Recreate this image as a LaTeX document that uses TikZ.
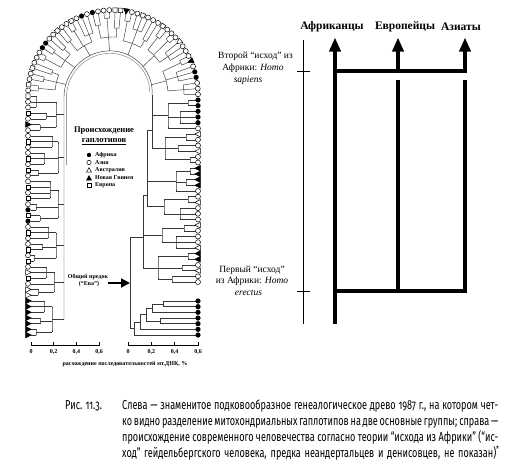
\documentclass[tikz,border=0pt]{standalone}
\usepackage{fontspec}
\setmainfont{Liberation Serif}
\newfontfamily\capfont[FakeStretch=0.70,Numbers=OldStyle]{Fira Sans}
\usetikzlibrary{arrows.meta}
\newcommand\leafsym[2]{%
  \ifcase#1\relax
    \draw[leafline,fill=white] ({hx(#2,0)},{hy(#2,0)}) circle[radius=2.5pt];%
  \or
    \fill[black] ({hx(#2,0)},{hy(#2,0)}) circle[radius=2.6pt];%
  \or
    \draw[leafline,fill=white] ({hx(#2-2.8,-2.3)},{hy(#2-2.8,-2.3)}) -- ({hx(#2,3.2)},{hy(#2,3.2)}) -- ({hx(#2+2.8,-2.3)},{hy(#2+2.8,-2.3)}) -- cycle;%
  \or
    \draw[leafline,fill=black] ({hx(#2-2.8,-2.3)},{hy(#2-2.8,-2.3)}) -- ({hx(#2,3.2)},{hy(#2,3.2)}) -- ({hx(#2+2.8,-2.3)},{hy(#2+2.8,-2.3)}) -- cycle;%
  \or
    \draw[leafline,fill=white] ({hx(#2-2.2,-2.2)},{hy(#2-2.2,-2.2)}) -- ({hx(#2-2.2,2.2)},{hy(#2-2.2,2.2)}) -- ({hx(#2+2.2,2.2)},{hy(#2+2.2,2.2)}) -- ({hx(#2+2.2,-2.2)},{hy(#2+2.2,-2.2)}) -- cycle;%
  \fi}
\begin{document}
\begin{tikzpicture}[x=1pt,y=-1pt,
  declare function={
    phia(\sv)=(\sv-240)*0.674069;
    hx(\sv,\dv)=ifthenelse(\sv<240,28+\dv,ifthenelse(\sv>507.04,198-\dv,113-(85-\dv)*cos(phia(\sv))));
    hy(\sv,\dv)=ifthenelse(\sv<240,335-\sv,ifthenelse(\sv>507.04,\sv-412.04,95-(85-\dv)*sin(phia(\sv))));
    tdep(\sv)=ifthenelse(\sv<240,36,ifthenelse(\sv>507.04,46,36+(\sv-240)*0.037448));
  },
  treeline/.style={draw=black!78,line width=0.45pt},
  leafline/.style={draw=black,line width=0.5pt},
  bigline/.style={draw=black,line width=3.6pt},
  bigarrow/.style={bigline,-{Triangle[length=14pt,width=11pt]}},
  labtext/.style={inner sep=0pt,font=\fontsize{9.5}{11}\selectfont},
  headtext/.style={inner sep=0pt,font=\fontsize{11.5}{13}\selectfont\bfseries},
  smalltext/.style={inner sep=0pt,font=\fontsize{6}{7}\selectfont\bfseries},
  legtext/.style={inner sep=0pt,anchor=west,font=\fontsize{6}{7}\selectfont\bfseries},
  captext/.style={inner sep=0pt,anchor=base west,font=\capfont\fontsize{13}{16}\selectfont},
]
\useasboundingbox (0,0) rectangle (508,466);
\fill[white] (0,0) rectangle (508,466);

% ---------------- horseshoe tree ----------------
\foreach \lo/\hi/\dd/\df/\subs in {%
  0.5/5/24/-1/{0/1/8,2/3/12,4/6/16},%
  7.5/11/26/-1/{7/8/10,9/9/4,10/12/18},%
  13.5/18/28/-1/{13/14/6,15/16/14,17/19/20},%
  20.5/25.5/30/-1/{20/21/12,22/23/8,24/27/22},%
  28.5/34/30/-1/{28/29/10,30/32/16,33/35/24},%
  36.5/41/28/-1/{36/37/12,38/39/18,40/42/8},%
  43.5/47.5/27/-1/{43/44/10,45/46/14,47/48/20},%
  49.5/53.5/26/-1/{49/50/8,51/52/12,53/54/18},%
  55.5/60/28/-1/{55/56/16,57/58/10,59/61/20},%
  62.5/66.5/27/-1/{62/63/14,64/65/8,66/67/18},%
  68.5/73.5/30/-1/{68/69/10,70/72/16,73/74/22},%
  75.5/80/28/-1/{75/76/12,77/78/8,79/81/18},%
  82.5/88/30/-1/{82/83/10,84/86/18,87/89/14},%
  90.5/95/30/46/{90/91/10,92/94/18,95/95/4},%
  96.5/100.5/33/46/{96/97/12,98/99/20,100/101/8},%
  102.5/106/22/51/{102/103/8,104/105/12,106/106/4},%
  107.5/110/34/51/{107/108/10,109/111/18},%
  112.5/115/36/55/{112/113/14,114/116/22},%
  117.5/121.5/40/55/{117/118/10,119/120/16,121/122/26}%
}{%
  \foreach \fa/\fb/\fd in \subs {%
    \foreach \ii in {\fa,...,\fb} {%
      \pgfmathsetmacro\sL{\ii*5.689}%
      \draw[treeline] ({hx(\sL,2.5)},{hy(\sL,2.5)}) -- ({hx(\sL,\fd)},{hy(\sL,\fd)});%
    }%
    \ifnum\fa<\fb\relax
      \pgfmathsetmacro\sA{\fa*5.689}%
      \pgfmathsetmacro\sB{\fb*5.689}%
      \draw[treeline] plot[domain=\sA:\sB,samples=6] ({hx(\x,\fd)},{hy(\x,\fd)});%
    \fi
    \pgfmathsetmacro\sM{(\fa+\fb)/2*5.689}%
    \draw[treeline] ({hx(\sM,\fd)},{hy(\sM,\fd)}) -- ({hx(\sM,\dd)},{hy(\sM,\dd)});%
  }%
  \pgfmathsetmacro\sA{\lo*5.689}%
  \pgfmathsetmacro\sB{\hi*5.689}%
  \draw[treeline] plot[domain=\sA:\sB,samples=10] ({hx(\x,\dd)},{hy(\x,\dd)});%
  \pgfmathsetmacro\sM{(\lo+\hi)/2*5.689}%
  \pgfmathsetmacro\dF{\df<0 ? tdep(\sM) : \df}%
  \draw[treeline] ({hx(\sM,\dd)},{hy(\sM,\dd)}) -- ({hx(\sM,\dF)},{hy(\sM,\dF)});%
}
% trunk along the horseshoe
\draw[treeline] plot[domain=15.6:507.04,samples=120] ({hx(\x,tdep(\x))},{hy(\x,tdep(\x))});
\draw[draw=black!40,line width=0.6pt] plot[domain=170:500,samples=90] ({hx(\x,tdep(\x)+2.5)},{hy(\x,tdep(\x)+2.5)});
% right side joints and root
\coordinate (r1a) at (152,95);  \coordinate (r1b) at (152,148.3);
\coordinate (r2a) at (147,130); \coordinate (r2b) at (147,206.7);
\coordinate (r3a) at (143,195); \coordinate (r3b) at (143,267.8);
\coordinate (rootT) at (130,237); \coordinate (rootB) at (130,328.45);
\draw[treeline] (r1a) -- (r1b);
\draw[treeline] (152,130) -- (r2a) -- (r2b);
\draw[treeline] (147,195) -- (r3a) -- (r3b);
\draw[treeline] (143,237) -- (rootT) -- (rootB);
% African cluster
\draw[treeline] (195.5,301) -- (163,301) -- (163,306.67) -- (195.5,306.67);
\draw[treeline] (163,303.83) -- (152,303.83);
\draw[treeline] (195.5,312.33) -- (152,312.33) -- (152,303.83);
\draw[treeline] (152,308.08) -- (146,308.08);
\draw[treeline] (195.5,318) -- (160,318) -- (160,323.67) -- (195.5,323.67);
\draw[treeline] (160,320.83) -- (146,320.83);
\draw[treeline] (146,308.08) -- (146,320.83);
\draw[treeline] (146,314.46) -- (140,314.46);
\draw[treeline] (195.5,329.33) -- (140,329.33) -- (140,314.46);
\draw[treeline] (140,321.9) -- (134,321.9);
\draw[treeline] (195.5,335) -- (134,335) -- (134,321.9);
\draw[treeline] (134,328.45) -- (rootB);
% leaf symbols
\foreach \ty [count=\nn from 0] in {3,3,3,3,3,3,3, 2,2,0,4,2,0, 4,0,4,0,0,4,0, 1,4,1,0,4,0,4,0, 0,4,0,4,0,0,4,0, 0,3,0,4,0,0,4, 0,4,0,0,4,0,0,0, 1,1,0,0, 4,0,0,4,0, 1,0,1, 0,0,0,4,4,3, 0,0,4,0,0,0,4,0,0,0, 2,0,0,0,3,0, 1,1,0,0,0, 1,1,1,1,1, 0,2,0,0,2,0,0, 3,3,3,3, 0,0,2,0,0,0,2,0,0,0,2, 3,3,0,2,0,0}{%
  \pgfmathsetmacro\sL{\nn*5.689}%
  \leafsym{\ty}{\sL}%
}
\foreach \yy in {301,306.67,312.33,318,323.67,329.33,335}{\fill[black] (198,\yy) circle[radius=2.6pt];}

% legend
\node[inner sep=0pt,font=\fontsize{8.5}{10}\selectfont\bfseries] (legT1) at (104,131) {Происхождение};
\node[inner sep=0pt,font=\fontsize{8.5}{10}\selectfont\bfseries] (legT2) at (104,142) {\underline{гаплотипов}};
\fill[black] (89,155) circle[radius=2.2pt];
\draw[leafline] (89,162.5) circle[radius=2.2pt];
\draw[leafline] (86.6,172) -- (89,167.6) -- (91.4,172) -- cycle;
\draw[leafline,fill=black] (86.6,180) -- (89,175.6) -- (91.4,180) -- cycle;
\draw[leafline] (87,183.5) rectangle (91,187.5);
\node[legtext] (lg1) at (95,155) {Африка};
\node[legtext] (lg2) at (95,162.5) {Азия};
\node[legtext] (lg3) at (95,170) {Австралия};
\node[legtext] (lg4) at (95,178) {Новая Гвинея};
\node[legtext] (lg5) at (95,185.5) {Европа};

% common ancestor
\node[smalltext] (eva1) at (88,276.5) {Общий предок};
\node[smalltext] (eva2) at (89,284.5) {(“Ева”)};
\coordinate (arS) at (108,283);
\coordinate (arE) at (130,283);
\draw[line width=1.8pt,-{Triangle[length=9pt,width=9pt]}] (arS) -- (arE);

% axes
\draw[line width=0.6pt] (31,345.5) -- (99,345.5);
\foreach \tx/\tl in {31/0,53.7/{0,2},76.3/{0,4},99/{0,6}}{%
  \draw[line width=0.6pt] (\tx,345.5) -- (\tx,341.5);
  \node[smalltext] at (\tx,352) {\tl};}
\draw[line width=0.6pt] (128,345.5) -- (198,345.5);
\foreach \tx/\tl in {128/0,151.3/{0,2},174.7/{0,4},198/{0,6}}{%
  \draw[line width=0.6pt] (\tx,345.5) -- (\tx,341.5);
  \node[smalltext] at (\tx,352) {\tl};}
\node[smalltext] (axl) at (125,364) {расхождение последовательностей мт.ДНК, \%};

% ---------------- right panel ----------------
\node[headtext] (hAf) at (332,27) {Африканцы};
\node[headtext] (hEu) at (405,27) {Европейцы};
\node[headtext] (hAs) at (461,27) {Азиаты};
\coordinate (afT) at (335,37.5); \coordinate (afB) at (335,324);
\coordinate (euT) at (398,37.5); \coordinate (asT) at (465,37.5);
\coordinate (afU) at (335,71); \coordinate (euU) at (398,71); \coordinate (asU) at (465,71);
\coordinate (euM) at (398,80); \coordinate (asM) at (465,80);
\coordinate (afL) at (335,291); \coordinate (euL) at (398,291); \coordinate (asL) at (465,291);
\draw[bigarrow] (afB) -- (afT);
\draw[bigarrow] (euU) -- (euT);
\draw[bigarrow] (asU) -- (asT);
\draw[bigline,line cap=rect] (afU) -- (asU);
\draw[bigline] (euM) -- (euL);
\draw[bigline] (asM) -- (asL);
\draw[bigline,line cap=rect] (afL) -- (asL);
% time axis
\coordinate (tT) at (303,40); \coordinate (tB) at (303,324);
\draw[line width=1pt] (tT) -- (tB);
\draw[line width=1pt] (297,71) -- (310,71);
\draw[line width=1pt] (297,291) -- (310,291);
\node[labtext] (s1) at (255.5,56) {Второй “исход” из};
\node[labtext] (s2) at (253,68) {Африки: \textit{Homo}};
\node[labtext] (s3) at (248,80) {\textit{sapiens}};
\node[labtext] (e1) at (252,270) {Первый “исход”};
\node[labtext] (e2) at (252,281.5) {из Африки: \textit{Homo}};
\node[labtext] (e3) at (248.5,292.5) {\textit{erectus}};

% ---------------- caption ----------------
\node[captext] (c0) at (65,409) {Рис. 11.3.};
\node[captext] (c1) at (122,409) {\makebox[376pt][s]{Слева — знаменитое подковообразное генеалогическое древо 1987 г., на котором чет-}};
\node[captext] (c2) at (122,425) {\makebox[376pt][s]{ко видно разделение митохондриальных гаплотипов на две основные группы; справа —}};
\node[captext] (c3) at (122,441) {\makebox[376pt][s]{происхождение современного человечества согласно теории “исхода из Африки” (“ис-}};
\node[captext] (c4) at (122,457) {\makebox[374pt][s]{ход” гейдельбергского человека, предка неандертальцев и денисовцев, не показан)}\textsuperscript{*}};
\end{tikzpicture}
\end{document}
